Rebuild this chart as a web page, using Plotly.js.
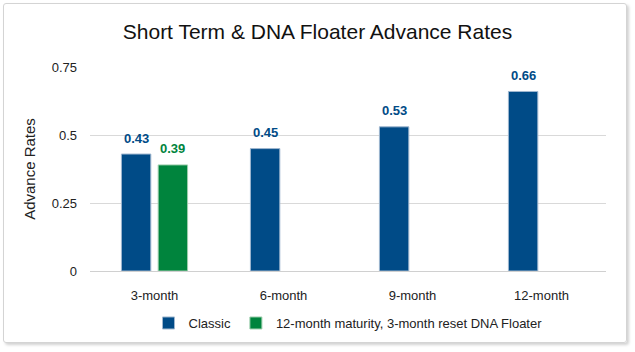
<!DOCTYPE html>
<html><head><meta charset="utf-8">
<script src="https://cdn.plot.ly/plotly-3.0.1.min.js"></script>
<style>
html,body{margin:0;padding:0;background:#fff;}
#wrap{position:relative;width:635px;height:352px;}
#chart{width:635px;height:352px;}
#frame{position:absolute;left:3px;top:3px;width:622px;height:338px;border:1px solid #d4d4d4;border-radius:3px;box-shadow:2px 2px 3px rgba(0,0,0,0.18);pointer-events:none;}
</style></head>
<body>
<div id="wrap"><div id="chart"></div><div id="frame"></div></div>
<script>
const categories = ["3-month","6-month","9-month","12-month"];
const classicValues = [0.43, 0.45, 0.53, 0.66];
const floaterValues = [0.39, null, null, null];
const seriesNames = ["Classic", "12-month maturity, 3-month reset DNA Floater"];
const yTicks = [0, 0.25, 0.5, 0.75];
const yTickLabels = ["0", "0.25", "0.5", "0.75"];

const FONT = '"Liberation Sans Narrow", "Arial Narrow", "Liberation Sans", Arial, sans-serif';
const BLUE = '#004b87';
const GREEN = '#00843d';

const traces = [
  {type:'bar', name:seriesNames[0], x:categories, y:classicValues,
   marker:{color:BLUE, line:{color:'#9fb7cf', width:1}}, hoverinfo:'none'},
  {type:'bar', name:seriesNames[1], x:categories, y:floaterValues,
   marker:{color:GREEN, line:{color:'#9fcfae', width:1}}, hoverinfo:'none'}
];

const BARGAP = 0.43;
const plotW = 635 - 90 - 29;
const slot = plotW / categories.length * (1 - BARGAP) / 2;

const annotations = [];
[[classicValues, BLUE, -slot/2], [floaterValues, GREEN, slot/2]].forEach(([vals, col, xs]) => {
  vals.forEach((v, i) => {
    if (v == null) return;
    annotations.push({x: categories[i], y: v, xref:'x', yref:'y', text: String(v), showarrow:false,
      xshift: xs, yshift: 16, yanchor:'middle', xanchor:'center',
      font:{family:FONT, size:13, color:col, weight:'bold'}});
  });
});

const layout = {
  width:635, height:352,
  margin:{l:90, r:29, t:67, b:81, autoexpand:false},
  paper_bgcolor:'#fff', plot_bgcolor:'#fff',
  font:{family:FONT, size:13, color:'#222'},
  title:{text:'Short Term & DNA Floater Advance Rates', font:{family:FONT, size:21, color:'#111'}, x:0.5, xanchor:'center', y:0.91, yanchor:'middle'},
  barmode:'group', bargap:BARGAP, bargroupgap:0.2,
  showlegend:true,
  legend:{orientation:'h', x:0.5, xanchor:'center', y:-0.255, yanchor:'middle', font:{family:FONT, size:13, color:'#222'}, itemwidth:30, traceorder:'normal'},
  annotations: annotations,
  xaxis:{type:'category', showgrid:false, showline:true, linecolor:'#d0d0d0', linewidth:1, ticks:'', ticklabelstandoff:12, tickfont:{family:FONT, size:13, color:'#222'}, fixedrange:true},
  yaxis:{range:[0,0.75], tickvals:yTicks, ticktext:yTickLabels, showgrid:true, gridcolor:'#d9d9d9', gridwidth:1, zeroline:false, showline:false, ticks:'', ticklabelstandoff:12,
         tickfont:{family:FONT, size:13, color:'#222'},
         title:{text:'Advance Rates', font:{family:FONT, size:15, color:'#222'}, standoff:12}, fixedrange:true}
};

Plotly.newPlot('chart', traces, layout, {displayModeBar:false, staticPlot:true});
</script>
</body></html>
